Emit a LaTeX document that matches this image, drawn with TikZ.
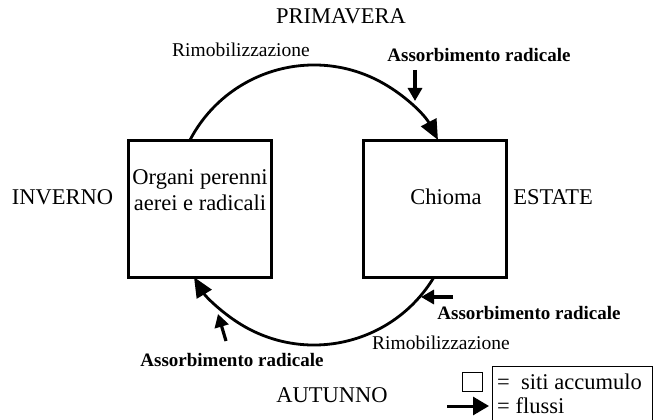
\documentclass[tikz,border=0pt]{standalone}
\usepackage{fontspec}
\setmainfont{Liberation Serif}
\usetikzlibrary{arrows.meta,calc}

\tikzset{
  store/.style={draw, line width=3pt, minimum width=143pt, minimum height=137pt, inner sep=0pt},
  flow/.style={line width=2.8pt, -{Triangle[length=20pt,width=17pt]}},
  uptake/.style={line width=3.2pt, -{Triangle[length=13pt,width=14pt]}},
  season/.style={font=\fontsize{22.5}{25}\selectfont, inner sep=0pt},
  remob/.style={font=\fontsize{19.5}{22}\selectfont, inner sep=0pt},
  absorb/.style={font=\fontsize{19}{22}\selectfont\bfseries, inner sep=0pt},
}

\begin{document}
\begin{tikzpicture}[x=1pt, y=-1pt]
			%%%%% START %%%%%
			\useasboundingbox (0,0) rectangle (656,420);
			
			% siti di accumulo
			\node[store] (organi) at (199.5,208.5) {};
			\node[store] (chioma) at (434.5,208.5) {};
			\node[season, align=center] (organitxt) at (200,190) {Organi perenni\\[1pt]aerei e radicali};
			\node[season] (chiomatxt) at (446,197) {Chioma};
			
			% stagioni
			\node[season] (primavera) at (341,16) {PRIMAVERA};
			\node[season] (inverno) at (62.5,197) {INVERNO};
			\node[season] (estate) at (553,197) {ESTATE};
			\node[season] (autunno) at (332,395) {AUTUNNO};
			
			% flussi lungo il ciclo
			\coordinate (ciclo) at (314,205);
			\draw[flow] ($(ciclo)+(-152.3:140)$) arc[start angle=-152.3, end angle=-27.7, radius=140];
			\draw[flow] ($(ciclo)+(31:140)$) arc[start angle=31, end angle=149, radius=140];
			
			\node[remob] (rimob1) at (241,50) {Rimobilizzazione};
			\node[remob] (rimob2) at (441,343) {Rimobilizzazione};
			
			% assorbimento radicale
			\node[absorb] (assorb1) at (479,55) {Assorbimento radicale};
			\node[absorb] (assorb2) at (529,313) {Assorbimento radicale};
			\node[absorb] (assorb3) at (232,360) {Assorbimento radicale};
			
			\coordinate (in1a) at (415,70);
			\coordinate (in1b) at (415,101);
			\coordinate (in2a) at (453,297);
			\coordinate (in2b) at (421,297);
			\coordinate (in3a) at (226,341);
			\coordinate (in3b) at (218,314);
			\draw[uptake] (in1a) -- (in1b);
			\draw[uptake] (in2a) -- (in2b);
			\draw[uptake] (in3a) -- (in3b);
			
			% legenda
			\draw[line width=0.8pt] (492,420) |- (652,366) -- (652,420);
			\node[draw, line width=0.8pt, minimum width=20pt, minimum height=19pt, inner sep=0pt] (legbox) at (472.5,381.5) {};
			\coordinate (legA) at (447,406);
			\coordinate (legB) at (489,406);
			\draw[line width=3pt, -{Triangle[length=16pt,width=18pt]}] (legA) -- (legB);
			\node[season, anchor=west] (legsiti) at (497,382) {=\ \ siti accumulo};
			\node[season, anchor=west] (legflussi) at (497,406) {= flussi};
			
			%%%%% END %%%%%
		\end{tikzpicture}
\end{document}
